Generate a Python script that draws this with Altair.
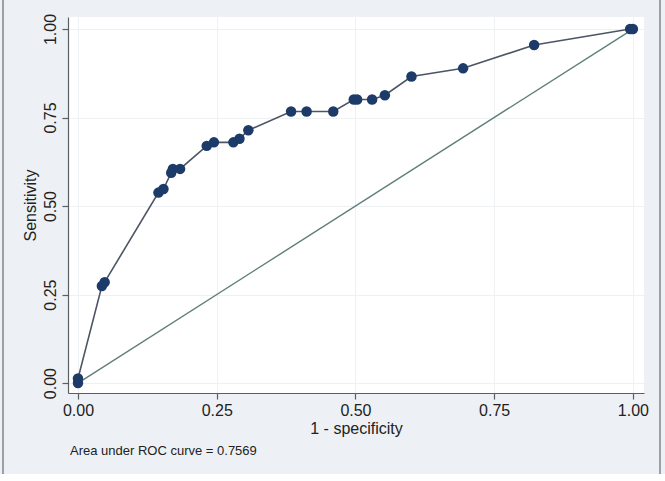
import altair as alt
import pandas as pd

# ROC curve operating points: 1 - specificity vs. sensitivity
fpr = [0.0, 0.0, 0.043, 0.048, 0.145, 0.154, 0.168, 0.171, 0.184, 0.232, 0.245,
       0.280, 0.291, 0.307, 0.384, 0.412, 0.460, 0.497, 0.503, 0.530, 0.553,
       0.601, 0.694, 0.822, 0.995, 1.0]
tpr = [0.0, 0.013, 0.274, 0.285, 0.538, 0.548, 0.594, 0.605, 0.605, 0.670, 0.680,
       0.680, 0.690, 0.714, 0.767, 0.767, 0.767, 0.801, 0.801, 0.801, 0.813,
       0.866, 0.889, 0.955, 1.0, 1.0]

# Chance (reference) line
ref_x = [0.0, 1.0]
ref_y = [0.0, 1.0]

tick_values = [0.0, 0.25, 0.5, 0.75, 1.0]
auc_note = "Area under ROC curve = 0.7569"

roc = pd.DataFrame({"fpr": fpr, "tpr": tpr, "order": list(range(len(fpr)))})
ref = pd.DataFrame({"fpr": ref_x, "tpr": ref_y})
note = pd.DataFrame({"label": [auc_note]})

FONT = "Liberation Sans"
BG = "#edf1f5"
NAVY = "#1c3b69"

x_enc = alt.X(
    "fpr:Q",
    title="1 - specificity",
    scale=alt.Scale(domain=[-0.018, 1.02], nice=False, zero=False),
    axis=alt.Axis(values=tick_values, format=".2f"),
)
y_enc = alt.Y(
    "tpr:Q",
    title="Sensitivity",
    scale=alt.Scale(domain=[-0.028, 1.034], nice=False, zero=False),
    axis=alt.Axis(values=tick_values, format=".2f", labelAngle=270,
                  labelAlign="center", labelBaseline="bottom"),
)

ref_line = alt.Chart(ref).mark_line(color="#5e7f78", strokeWidth=1.4).encode(
    x=x_enc, y=y_enc
)

roc_line = alt.Chart(roc).mark_line(color="#4d5564", strokeWidth=1.6).encode(
    x="fpr:Q", y="tpr:Q", order="order:Q"
)

roc_pts = alt.Chart(roc).mark_point(
    filled=True, color=NAVY, size=110, opacity=1
).encode(x="fpr:Q", y="tpr:Q")

# Note under the x axis
note_text = alt.Chart(note).mark_text(
    align="left", baseline="middle", font=FONT, fontSize=13, color="#222222"
).encode(text="label:N", x=alt.value(2), y=alt.value(434))

# Outer frame edges and lower strip of the graph region
frame_left = alt.Chart(roc).mark_rule(color="#9aa0a8", strokeWidth=1).encode(
    x=alt.value(-65), y=alt.value(-17), y2=alt.value(457)
)
frame_right = alt.Chart(roc).mark_rule(color="#9aa0a8", strokeWidth=1).encode(
    x=alt.value(592), y=alt.value(-17), y2=alt.value(457)
)
bottom_strip = alt.Chart(roc).mark_rect(color="white").encode(
    x=alt.value(-68), x2=alt.value(597), y=alt.value(457), y2=alt.value(464)
)

chart = (
    alt.layer(ref_line, roc_line, roc_pts, note_text,
              frame_left, frame_right, bottom_strip)
    .properties(
        width=576,
        height=376,
        background=BG,
        padding={"left": 68, "top": 17, "right": 21, "bottom": 88},
        autosize=alt.AutoSizeParams(type="none"),
    )
    .configure_view(fill="white", stroke=None)
    .configure_axis(
        labelFont=FONT,
        titleFont=FONT,
        labelFontSize=16,
        titleFontSize=16,
        titleFontWeight="normal",
        labelColor="#222222",
        titleColor="#222222",
        domainColor="#5a5f66",
        tickColor="#5a5f66",
        domainWidth=1.2,
        tickWidth=1.2,
        tickSize=6,
        gridColor="#eef1f4",
        gridWidth=1,
        labelPadding=3,
    )
    .configure_axisX(titlePadding=2)
    .configure_axisY(labelPadding=4, titlePadding=4)
)

chart.save("out.html", embed_options={"renderer": "svg", "actions": False})
